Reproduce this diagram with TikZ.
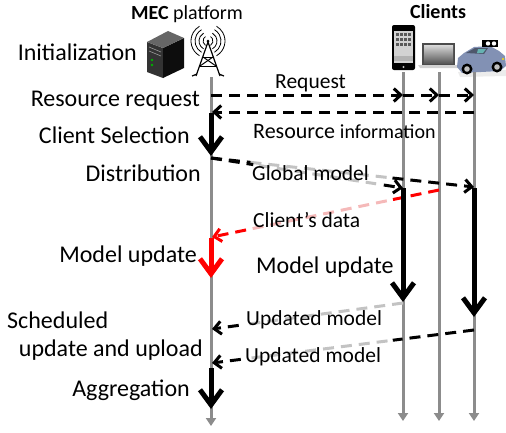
\documentclass[tikz,border=0pt]{standalone}
\usepackage{fontspec}
\setmainfont{Carlito}
\usetikzlibrary{arrows.meta,calc}
\definecolor{lifegray}{RGB}{140,140,140}
\definecolor{fadegray}{RGB}{195,195,195}
\definecolor{fadered}{RGB}{245,185,185}
\definecolor{carblue}{RGB}{130,145,180}
\begin{document}
\begin{tikzpicture}[x=1pt,y=-1pt,
  lifeline/.style={draw=lifegray,line width=3pt,-{Triangle[length=8pt,width=10pt]}},
  bigarrow/.style={line width=5pt,-{Straight Barb[length=15pt,width=22pt]}},
  msg/.style={line width=3pt,dash pattern=on 11pt off 7pt},
  msgtip/.style={-{Straight Barb[length=7pt,width=13pt]}},
  leftlab/.style={font=\fontsize{24}{26}\selectfont,anchor=base east,inner sep=0pt},
  rightlab/.style={font=\fontsize{21.5}{24}\selectfont,anchor=base west,inner sep=0pt},
  headlab/.style={font=\fontsize{20}{22}\selectfont,anchor=base,inner sep=0pt}]
\useasboundingbox (0,0) rectangle (506,432);

% ---------- coordinates ----------
\coordinate (mTop) at (211,77);  \coordinate (mBot) at (211,426);
\coordinate (c1Top) at (403,72); \coordinate (c1Bot) at (403,421);
\coordinate (c2Top) at (439,72); \coordinate (c2Bot) at (439,421);
\coordinate (c3Top) at (474,72); \coordinate (c3Bot) at (474,421);

\coordinate (rq0) at (211,95); \coordinate (rq1) at (403,95);
\coordinate (rq2) at (439,95); \coordinate (rq3) at (474,95);
\coordinate (ri0) at (474,112); \coordinate (ri1) at (212,112);
\coordinate (cs0) at (211,113); \coordinate (cs1) at (211,156);
\coordinate (gm0) at (211,158); \coordinate (gm1) at (403,188); \coordinate (gm3) at (474,187);
\coordinate (cd0) at (439,190); \coordinate (cd1) at (212,237);
\coordinate (mu0) at (211,238); \coordinate (mu1) at (211,278);
\coordinate (ua0) at (403,188); \coordinate (ua1) at (403,302);
\coordinate (ub0) at (474,188); \coordinate (ub1) at (474,317);
\coordinate (up10) at (403,303); \coordinate (up11) at (212,329);
\coordinate (up30) at (474,330); \coordinate (up31) at (212,363);
\coordinate (ag0) at (211,368); \coordinate (ag1) at (211,409);

% ---------- icons ----------
% server
\fill[black!80] (147,42) -- (163,48) -- (163,78) -- (147,72) -- cycle;
\fill[black!95] (163,48) -- (184,38) -- (184,68) -- (163,78) -- cycle;
\fill[black!60] (147,42) -- (168,31) -- (184,38) -- (163,48) -- cycle;
\draw[black!40,line width=0.6pt] (149,47) -- (161,52);
\draw[black!40,line width=0.6pt] (149,51) -- (161,56);
\fill[green!70!black] (152,60) circle (1.3);
\fill[green!70!black] (152,65) circle (1.3);
% antenna
\draw[line width=1.2pt] (196,76) -- (208,42) -- (220,76);
\draw[line width=1.2pt] (192,76) -- (197,74);
\draw[line width=1.2pt] (224,76) -- (219,74);
\draw[line width=1pt] (203,57) -- (213,57);
\draw[line width=1pt] (200,66) -- (216,66);
\draw[line width=1pt] (203,57) -- (216,66);
\draw[line width=1pt] (213,57) -- (200,66);
\fill (208,41) circle (1.5);
\foreach \r in {5,9,13,17}{
  \draw[line width=0.8pt] (208,41) ++(60:\r) arc[start angle=60,end angle=-60,radius=\r];
  \draw[line width=0.8pt] (208,41) ++(120:\r) arc[start angle=120,end angle=240,radius=\r];
}
% phone
\fill[black,rounded corners=2pt] (392,25) rectangle (415,70);
\fill[gray!35] (394,31) rectangle (413,63);
\foreach \i in {0,1,2,3}{\foreach \j in {0,1,2}{
  \fill[gray!70!black] ({395.5+\i*4.3},{33+\j*5}) rectangle ++(3,3.2);}}
\fill[gray!60] (394,56) rectangle (413,61);
\fill[gray!50] (403.5,67) circle (1.2);
% laptop
\fill[gray!60!black] (422,43) rectangle (455,65);
\shade[top color=gray!30,bottom color=gray!70!black] (424,45) rectangle (453,63);
\fill[gray!35] (418,65) -- (460,65) -- (458,68) -- (420,68) -- cycle;
% car
\fill[gray!15] (458,72) -- (506,70) -- (506,76) -- (460,77) -- cycle;
\fill[carblue] (457,67) -- (458,58) -- (464,53) -- (474,47) -- (490,46) -- (499,51) -- (505,56) -- (506,66) -- (500,71) -- (462,73) -- cycle;
\fill[carblue!60!black] (466,53) -- (475,48) -- (488,48) -- (484,54) -- cycle;
\fill[teal!60] (478,49) -- (486,49) -- (483,53) -- (477,53) -- cycle;
\fill[black] (482,40) rectangle (498,47);
\fill[white] (488,43.5) circle (2.2);
\fill[white] (494,43.5) circle (2.2);
\fill[black] (467,69) circle (5.5); \fill[gray!50] (467,69) circle (2.8);
\fill[black] (497,67) circle (5.5); \fill[gray!50] (497,67) circle (2.8);
\fill[yellow!80!orange] (503,59) circle (1.2);

% ---------- lifelines ----------
\draw[lifeline] (mTop) -- (mBot);
\draw[lifeline] (c1Top) -- (c1Bot);
\draw[lifeline] (c2Top) -- (c2Bot);
\draw[lifeline] (c3Top) -- (c3Bot);

% ---------- request / resource information ----------
\draw[msg,msgtip] (rq0) -- (rq1);
\draw[msg,msgtip] (rq1) -- (rq2);
\draw[msg,msgtip] (rq2) -- (rq3);
\draw[msg,msgtip] (ri0) -- (ri1);

% ---------- client selection ----------
\draw[bigarrow] (cs0) -- (cs1);

% ---------- global model distribution ----------
\draw[msg,fadegray] ($(gm0)!0.15!(gm3)$) -- ($(gm0)!0.68!(gm3)$);
\draw[msg,black] (gm0) -- ($(gm0)!0.15!(gm3)$);
\draw[msg,black,msgtip] ($(gm0)!0.69!(gm3)$) -- (gm3);
\draw[msg,fadegray] ($(gm0)!0.25!(gm1)$) -- ($(gm0)!0.86!(gm1)$);
\draw[msg,black] (gm0) -- ($(gm0)!0.22!(gm1)$);
\draw[msg,black,msgtip] ($(gm0)!0.90!(gm1)$) -- (gm1);

% ---------- client's data ----------
\draw[msg,red] (cd0) -- ($(cd0)!0.21!(cd1)$);
\draw[msg,fadered] ($(cd0)!0.23!(cd1)$) -- ($(cd0)!0.83!(cd1)$);
\draw[msg,red,msgtip] ($(cd0)!0.85!(cd1)$) -- (cd1);

% ---------- model updates ----------
\draw[bigarrow,red] (mu0) -- (mu1);
\draw[bigarrow] (ua0) -- (ua1);
\draw[bigarrow] (ub0) -- (ub1);

% ---------- updated models ----------
\draw[msg,fadegray] (up10) -- ($(up10)!0.84!(up11)$);
\draw[msg,black,msgtip] ($(up10)!0.86!(up11)$) -- (up11);
\draw[msg,black] (up30) -- ($(up30)!0.31!(up31)$);
\draw[msg,fadegray] ($(up30)!0.33!(up31)$) -- ($(up30)!0.87!(up31)$);
\draw[msg,black,msgtip] ($(up30)!0.89!(up31)$) -- (up31);

% ---------- aggregation ----------
\draw[bigarrow] (ag0) -- (ag1);

% ---------- labels ----------
\node[headlab] (mec) at (187,19) {\textbf{MEC} platform};
\node[headlab] (cli) at (438,18) {\textbf{Clients}};
\node[leftlab] (l1) at (137,60) {Initialization};
\node[leftlab] (l2) at (200,106) {Resource request};
\node[leftlab] (l3) at (190,143) {Client Selection};
\node[leftlab] (l4) at (201,181) {Distribution};
\node[leftlab] (l5) at (197,262) {Model update};
\node[leftlab,anchor=base west] (l6) at (7,328) {Scheduled};
\node[leftlab] (l7) at (203,356) {update and upload};
\node[leftlab] (l8) at (190,396) {Aggregation};
\node[rightlab] (r1) at (275,88) {Request};
\node[rightlab] (r2) at (253,138) {{\fontsize{22}{24}\selectfont Resource} {\fontsize{20}{22}\selectfont information}};
\node[rightlab] (r3) at (252,180) {Global model};
\node[rightlab] (r4) at (253,227) {Client’s data};
\node[rightlab,font=\fontsize{24}{26}\selectfont] (r5) at (256,273) {Model update};
\node[rightlab] (r6) at (246,325) {Updated model};
\node[rightlab] (r7) at (245,362) {Updated model};
\end{tikzpicture}
\end{document}
